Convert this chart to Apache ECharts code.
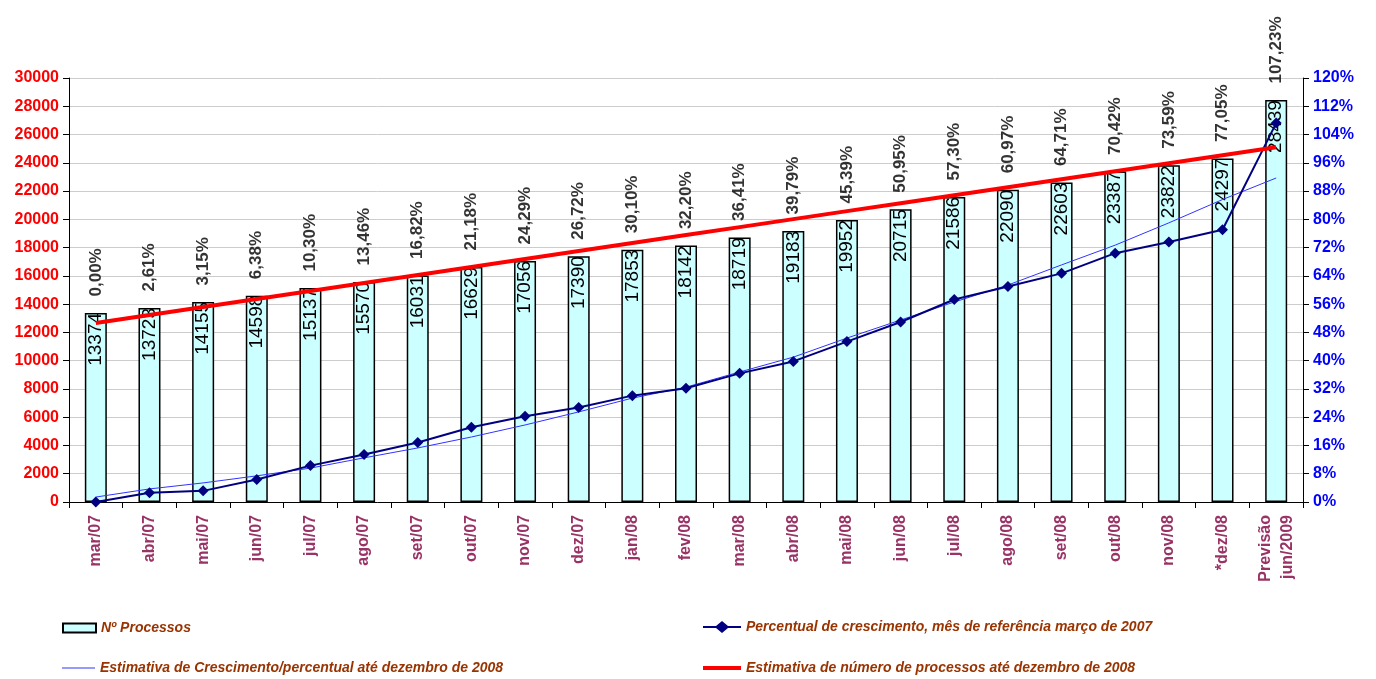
<!DOCTYPE html>
<html>
<head>
<meta charset="utf-8">
<script src="https://cdn.jsdelivr.net/npm/echarts@6/dist/echarts.min.js"></script>
<style>
    html, body { margin: 0; padding: 0; background: #fff; }
    #chart { width: 1376px; height: 679px; }
</style>
</head>
<body>
<div id="chart"></div>
<script>
// meses
var meses = ['mar/07', 'abr/07', 'mai/07', 'jun/07', 'jul/07', 'ago/07', 'set/07', 'out/07',
    'nov/07', 'dez/07', 'jan/08', 'fev/08', 'mar/08', 'abr/08', 'mai/08', 'jun/08', 'jul/08',
    'ago/08', 'set/08', 'out/08', 'nov/08', '*dez/08', 'Previsão\njun/2009'];

// Nº Processos
var processos = [13374, 13723, 14155, 14598, 15137, 15570, 16031, 16629, 17056, 17390, 17853,
    18142, 18719, 19183, 19952, 20715, 21586, 22090, 22603, 23387, 23822, 24297, 28439];

// Percentual de crescimento (mês de referência março de 2007)
var percentual = [0.00, 2.61, 3.15, 6.38, 10.30, 13.46, 16.82, 21.18, 24.29, 26.72, 30.10,
    32.20, 36.41, 39.79, 45.39, 50.95, 57.30, 60.97, 64.71, 70.42, 73.59, 77.05, 107.23];

// Estimativa de crescimento percentual (linha de tendência)
var estimativaPercentual = [1.4, 3.7, 5.4, 7.4, 9.6, 12.5, 15.3, 18.4, 21.8, 25.5, 29.4,
    32.5, 36.8, 41.0, 46.4, 51.5, 56.6, 61.4, 67.1, 72.7, 79.0, 85.6, 91.7];

// Estimativa de número de processos (linha de tendência)
var estimativaProcessos = [12670, 13235, 13800, 14365, 14930, 15495, 16060, 16625, 17190,
    17755, 18320, 18885, 19450, 20015, 20580, 21145, 21710, 22275, 22840, 23405, 23970,
    24535, 25100];

var fonte = 'Liberation Sans, Arial, sans-serif';
var corLegenda = '#993300';

function fmtPct(v) {
    return v.toFixed(2).replace('.', ',') + '%';
}

var chart = echarts.init(document.getElementById('chart'));

// uma legenda por item, para posicionar como no original
function legenda(item, left, top, w, h) {
    return {
        data: [item],
        left: left,
        top: top,
        padding: 0,
        itemWidth: w,
        itemHeight: h,
        selectedMode: false,
        textStyle: {
            fontFamily: fonte, fontSize: 14, fontWeight: 'bold',
            fontStyle: 'italic', color: corLegenda
        }
    };
}

chart.setOption({
    animation: false,
    textStyle: { fontFamily: fonte },
    grid: { left: 69, right: 73, top: 78, bottom: 177 },
    legend: [
        legenda({ name: 'Nº Processos', icon: 'rect' }, 62, 621, 33, 9),
        legenda({
            name: 'Percentual de crescimento, mês de referência março de 2007',
            icon: 'path://M0,4 L13,4 L19,-1 L25,4 L38,4 L38,6 L25,6 L19,11 L13,6 L0,6 Z'
        }, 703, 620, 38, 12),
        legenda({ name: 'Estimativa de Crescimento/percentual até dezembro de 2008', icon: 'rect' }, 62, 661, 33, 1),
        legenda({ name: 'Estimativa de número de processos até dezembro de 2008', icon: 'rect' }, 703, 661, 38, 4)
    ],
    xAxis: {
        type: 'category',
        data: meses,
        axisLine: { lineStyle: { color: '#000', width: 1 } },
        axisTick: { show: true, length: 6, lineStyle: { color: '#000' } },
        axisLabel: {
            rotate: 90, margin: 13, interval: 0,
            color: '#993366', fontSize: 16, fontWeight: 'bold', fontFamily: fonte,
            lineHeight: 22
        }
    },
    yAxis: [{
        type: 'value',
        min: 0, max: 30000, interval: 2000,
        axisLine: { show: true, lineStyle: { color: '#000' } },
        axisTick: { show: true, length: 6, lineStyle: { color: '#000' } },
        splitLine: { lineStyle: { color: '#cccccc', width: 1 } },
        axisLabel: {
            formatter: function (v) { return String(v); },
            color: '#ff0000', fontSize: 16, fontWeight: 'bold', fontFamily: fonte, margin: 10
        }
    }, {
        type: 'value',
        min: 0, max: 120, interval: 8,
        axisLine: { show: true, lineStyle: { color: '#000' } },
        axisTick: { show: true, length: 6, lineStyle: { color: '#000' } },
        splitLine: { show: false },
        axisLabel: {
            formatter: '{value}%',
            color: '#0000ff', fontSize: 16, fontWeight: 'bold', fontFamily: fonte, margin: 10
        }
    }],
    series: [{
        name: 'Nº Processos',
        type: 'bar',
        data: processos,
        barWidth: 22,
        itemStyle: { color: '#ccffff', borderColor: '#000', borderWidth: 1.5 },
        label: {
            show: true,
            position: 'insideTop',
            rotate: 90,
            align: 'right',
            verticalAlign: 'middle',
            distance: 0,
            color: '#000',
            fontSize: 19,
            fontFamily: fonte
        },
        z: 2
    }, {
        // rótulos percentuais acima das barras
        name: 'rotulos',
        type: 'scatter',
        data: processos,
        symbolSize: 1,
        itemStyle: { color: 'transparent' },
        silent: true,
        label: {
            show: true,
            position: 'top',
            rotate: 90,
            align: 'left',
            verticalAlign: 'middle',
            distance: 16,
            color: '#000',
            fontSize: 17,
            fontWeight: 'bold',
            fontFamily: fonte,
            formatter: function (p) {
                return fmtPct(percentual[p.dataIndex]);
            }
        },
        z: 5
    }, {
        name: 'Estimativa de Crescimento/percentual até dezembro de 2008',
        type: 'line',
        yAxisIndex: 1,
        data: estimativaPercentual,
        symbol: 'none',
        lineStyle: { color: '#3333ff', width: 1 },
        itemStyle: { color: '#3333ff' },
        z: 3
    }, {
        name: 'Percentual de crescimento, mês de referência março de 2007',
        type: 'line',
        yAxisIndex: 1,
        data: percentual,
        symbol: 'diamond',
        symbolSize: 11,
        lineStyle: { color: '#000080', width: 2 },
        itemStyle: { color: '#000080' },
        z: 4
    }, {
        name: 'Estimativa de número de processos até dezembro de 2008',
        type: 'line',
        data: estimativaProcessos,
        symbol: 'none',
        lineStyle: { color: '#ff0000', width: 4 },
        itemStyle: { color: '#ff0000' },
        z: 4
    }]
});
</script>
</body>
</html>
